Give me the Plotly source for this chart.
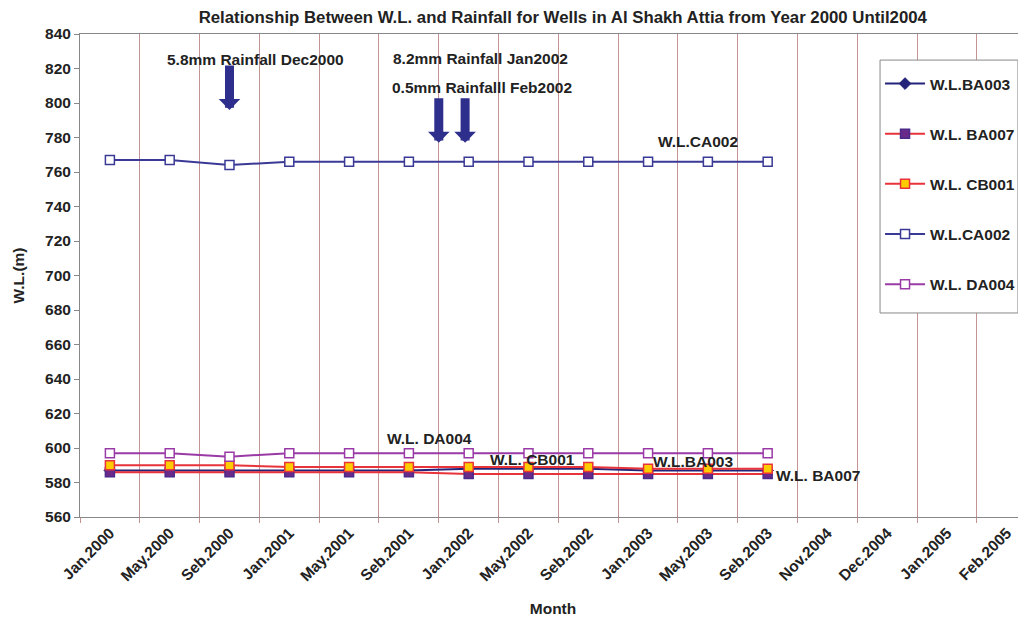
import plotly.graph_objects as go

months = ["Jan.2000", "May.2000", "Seb.2000", "Jan.2001", "May.2001", "Seb.2001",
          "Jan.2002", "May.2002", "Seb.2002", "Jan.2003", "May.2003", "Seb.2003",
          "Nov.2004", "Dec.2004", "Jan.2005", "Feb.2005"]
data_months = months[:12]

wl_ba003 = [587, 587, 587, 587, 587, 587, 588, 588, 588, 587, 587, 587]
wl_ba007 = [586, 586, 586, 586, 586, 586, 585, 585, 585, 585, 585, 585]
wl_cb001 = [590, 590, 590, 589, 589, 589, 589, 589, 589, 588, 588, 588]
wl_ca002 = [767, 767, 764, 766, 766, 766, 766, 766, 766, 766, 766, 766]
wl_da004 = [597, 597, 595, 597, 597, 597, 597, 597, 597, 597, 597, 597]

NAVY = "#23237a"
BLUE = "#3a3a96"
RED = "#e8333a"
PURPLE = "#9a3aa6"
FONT = "Liberation Sans, Arial, sans-serif"
TXT = "#222222"
FS = 15.5

fig = go.Figure()
series = [
    ("W.L.BA003", wl_ba003, NAVY, dict(symbol="diamond", size=9, color=NAVY, line=dict(color=NAVY, width=1))),
    ("W.L. BA007", wl_ba007, RED, dict(symbol="square", size=9, color="#6a2a8a", line=dict(color="#4a2a8a", width=1.5))),
    ("W.L. CB001", wl_cb001, RED, dict(symbol="square", size=9, color="#ffcc00", line=dict(color=RED, width=1.5))),
    ("W.L.CA002", wl_ca002, BLUE, dict(symbol="square", size=9, color="white", line=dict(color=BLUE, width=1.5))),
    ("W.L. DA004", wl_da004, PURPLE, dict(symbol="square", size=9, color="white", line=dict(color=PURPLE, width=1.5))),
]
for i, (name, vals, col, mk) in enumerate(series):
    fig.add_trace(go.Scatter(x=data_months, y=vals, name=name, mode="lines+markers",
                             line=dict(color=col, width=2), marker=mk,
                             legendgroup=f"g{i}"))

ann_font = dict(family=FONT, size=FS, color=TXT, weight="bold")
annotations = [
    dict(x=2.44, y=825, text="5.8mm Rainfall Dec2000"),
    dict(x=6.2, y=826, text="8.2mm Rainfall Jan2002"),
    dict(x=6.22, y=809, text="0.5mm Rainfalll Feb2002"),
    dict(x=9.83, y=777.5, text="W.L.CA002"),
    dict(x=5.35, y=605.8, text="W.L. DA004"),
    dict(x=7.07, y=593.6, text="W.L. CB001"),
    dict(x=9.75, y=591.9, text="W.L.BA003"),
    dict(x=11.84, y=583.8, text="W.L. BA007"),
]
for a in annotations:
    fig.add_annotation(x=a["x"], y=a["y"], text=a["text"], showarrow=False,
                       xref="x", yref="y", font=ann_font)

arrows = [(2.0, 796), (5.5, 777), (5.94, 777)]
for ax_x, tip in arrows:
    fig.add_annotation(x=ax_x, y=tip, xref="x", yref="y", text="", showarrow=True,
                       ax=0, ay=-46, arrowhead=1, arrowwidth=9, arrowsize=0.4,
                       arrowcolor="#2e2e8c", standoff=0)

# legend frame (box drawn around the borderless legend)
fig.add_shape(type="rect", xref="paper", yref="paper",
              x0=0.8457, x1=0.9915, y0=0.4224, y1=0.946,
              line=dict(color="#888888", width=1), fillcolor="white", layer="above")

fig.update_layout(
    width=1018, height=612,
    margin=dict(l=72, r=0, t=26, b=103),
    paper_bgcolor="white", plot_bgcolor="white",
    font=dict(family=FONT, size=FS, color=TXT),
    title=dict(text="Relationship Between W.L. and Rainfall for Wells in Al Shakh Attia from Year 2000 Until2004",
               x=0.545, xanchor="center", y=0.985, yanchor="middle",
               font=dict(family=FONT, size=16.8, color=TXT, weight="bold")),
    showlegend=True,
    legend=dict(x=0.8457, y=0.9317, xanchor="left", yanchor="top",
                borderwidth=0, bgcolor="rgba(0,0,0,0)",
                font=dict(family=FONT, size=FS, color=TXT, weight="bold"),
                traceorder="grouped", tracegroupgap=27, itemwidth=40),
)
fig.update_xaxes(type="category", categoryorder="array", categoryarray=months,
                 range=[-0.5, 15.32], tickangle=-45, tickson="boundaries",
                 showgrid=True, gridcolor="#c49494", gridwidth=1,
                 ticks="outside", ticklen=5, tickcolor="#c49494",
                 showline=True, linecolor="#888888", mirror=True,
                 tickfont=dict(family=FONT, size=FS, color=TXT, weight="bold"),
                 title=dict(text="Month", standoff=19,
                            font=dict(family=FONT, size=FS, color=TXT, weight="bold")))
fig.update_yaxes(range=[560, 840], dtick=20, showgrid=False, zeroline=False,
                 ticks="outside", ticklen=5, tickcolor="#888888",
                 showline=True, linecolor="#888888", mirror=True,
                 tickfont=dict(family=FONT, size=FS, color=TXT, weight="bold"),
                 title=dict(text="W.L.(m)", standoff=16,
                            font=dict(family=FONT, size=FS, color=TXT, weight="bold")))

fig.write_html("out.html")
